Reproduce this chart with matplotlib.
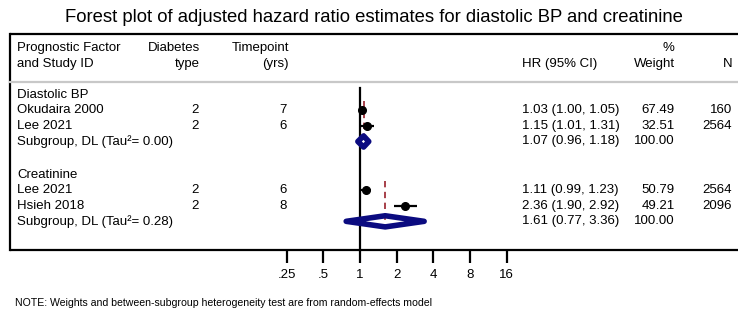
import matplotlib
matplotlib.use("Agg")
import matplotlib.pyplot as plt
from matplotlib.patches import Polygon
import numpy as np

plt.rcParams['font.family'] = ['Liberation Sans', 'DejaVu Sans']

# ---------------- data ----------------
groups = ["Diastolic BP", "Creatinine"]
studies = [["Okudaira 2000", "Lee 2021"], ["Lee 2021", "Hsieh 2018"]]
diab_type = [["2", "2"], ["2", "2"]]
timepoint = [["7", "6"], ["6", "8"]]
hr = [[1.03, 1.15], [1.11, 2.36]]
lo = [[1.00, 1.01], [0.99, 1.90]]
hi = [[1.05, 1.31], [1.23, 2.92]]
weight = [["67.49", "32.51"], ["50.79", "49.21"]]
n_obs = [["160", "2564"], ["2564", "2096"]]
sub_hr = [1.07, 1.61]
sub_lo = [0.96, 0.77]
sub_hi = [1.18, 3.36]
tau2 = ["0.00", "0.28"]
xticks = [0.25, 0.5, 1, 2, 4, 8, 16]
xtick_labels = [".25", ".5", "1", "2", "4", "8", "16"]

title = "Forest plot of adjusted hazard ratio estimates for diastolic BP and creatinine"
note = "NOTE: Weights and between-subgroup heterogeneity test are from random-effects model"

# ---------------- layout ----------------
W, H = 738, 311
fig = plt.figure(figsize=(W / 100, H / 100), dpi=100)
ax = fig.add_axes([0, 0, 1, 1])
ax.set_xscale('log', base=2)
PX_PER_DBL = 36.7
X1 = 360.0
ax.set_xlim(2 ** ((0 - X1) / PX_PER_DBL), 2 ** ((W - X1) / PX_PER_DBL))
ROW0, ROWH = 95.0, 15.5
def r(ypix):
    return (ypix - ROW0) / ROWH
ax.set_ylim(r(H), r(0))
ax.axis('off')

ty = ax.get_yaxis_transform()  # x axes fraction, y data
def fx(px):
    return px / W

FS = 9.5
navy = '#0b0b80'
red = '#a0323c'

# frame lines
ax.plot([fx(10), 1], [r(34), r(34)], transform=ty, color='black', lw=1.6, solid_capstyle='butt')
ax.plot([fx(10), fx(10)], [r(34), r(250)], transform=ty, color='black', lw=1.6)
ax.plot([fx(10), 1], [r(250), r(250)], transform=ty, color='black', lw=1.6, solid_capstyle='butt')
ax.plot([fx(10), 1], [r(82), r(82)], transform=ty, color='#c8c8c8', lw=1.6)

# header
hdr1, hdr2 = r(48), r(64)
ax.text(fx(17), hdr1, "Prognostic Factor", transform=ty, fontsize=FS, va='center', ha='left')
ax.text(fx(17), hdr2, "and Study ID", transform=ty, fontsize=FS, va='center', ha='left')
ax.text(fx(200), hdr1, "Diabetes", transform=ty, fontsize=FS, va='center', ha='right')
ax.text(fx(200), hdr2, "type", transform=ty, fontsize=FS, va='center', ha='right')
ax.text(fx(289), hdr1, "Timepoint", transform=ty, fontsize=FS, va='center', ha='right')
ax.text(fx(289), hdr2, "(yrs)", transform=ty, fontsize=FS, va='center', ha='right')
ax.text(fx(522), hdr2, "HR (95% CI)", transform=ty, fontsize=FS, va='center', ha='left')
ax.text(fx(668), hdr1, "%", transform=ty, fontsize=FS, va='center', ha='center')
ax.text(fx(675), hdr2, "Weight", transform=ty, fontsize=FS, va='center', ha='right')
ax.text(fx(732), hdr2, "N", transform=ty, fontsize=FS, va='center', ha='right')

# null line
ax.plot([1, 1], [r(88), r(250)], color='black', lw=1.6, zorder=3)

group_start = [0.0, 5.15]
for g in range(len(groups)):
    r0 = group_start[g]
    ax.text(fx(17), r0, groups[g], transform=ty, fontsize=FS, va='center', ha='left')
    nst = len(studies[g])
    sub_row = r0 + nst + 1
    # pooled dashed line
    ax.plot([sub_hr[g], sub_hr[g]], [r0 + 1 - 0.6, sub_row + 0.25], color=red, lw=1.3,
            ls=(0, (3.5, 2.5)), zorder=3)
    for i in range(nst):
        row = r0 + 1 + i
        ax.text(fx(17), row, studies[g][i], transform=ty, fontsize=FS, va='center', ha='left')
        ax.text(fx(199), row, diab_type[g][i], transform=ty, fontsize=FS, va='center', ha='right')
        ax.text(fx(287), row, timepoint[g][i], transform=ty, fontsize=FS, va='center', ha='right')
        ax.text(fx(522), row, f"{hr[g][i]:.2f} ({lo[g][i]:.2f}, {hi[g][i]:.2f})", transform=ty,
                fontsize=FS, va='center', ha='left')
        ax.text(fx(675), row, weight[g][i], transform=ty, fontsize=FS, va='center', ha='right')
        ax.text(fx(732), row, n_obs[g][i], transform=ty, fontsize=FS, va='center', ha='right')
        ax.plot([lo[g][i], hi[g][i]], [row, row], color='black', lw=1.6, zorder=4,
                solid_capstyle='butt')
        ax.plot([hr[g][i]], [row], 'o', color='black', ms=5.5, zorder=5)
    # subgroup diamond
    dh = 0.36
    verts = [(sub_lo[g], sub_row), (sub_hr[g], sub_row - dh), (sub_hi[g], sub_row),
             (sub_hr[g], sub_row + dh)]
    ax.add_patch(Polygon(verts, closed=True, facecolor='white', edgecolor='none', zorder=2))
    ax.add_patch(Polygon(verts, closed=True, facecolor='none', edgecolor=navy, lw=4.0,
                         joinstyle='round', zorder=4))
    ax.text(fx(17), sub_row, f"Subgroup, DL (Tau\u00b2= {tau2[g]})", transform=ty, fontsize=FS,
            va='center', ha='left')
    ax.text(fx(522), sub_row, f"{sub_hr[g]:.2f} ({sub_lo[g]:.2f}, {sub_hi[g]:.2f})", transform=ty,
            fontsize=FS, va='center', ha='left')
    ax.text(fx(675), sub_row, "100.00", transform=ty, fontsize=FS, va='center', ha='right')

# x axis ticks
ax.vlines(xticks, r(250), r(263), color='black', lw=1.6)
for t, lab in zip(xticks, xtick_labels):
    ax.text(t, r(275), lab, fontsize=FS, ha='center', va='center')

fig.text(fx(374), 1 - 17 / H, title, fontsize=13.3, ha='center', va='center')
fig.text(fx(15), 1 - 303 / H, note, fontsize=7.6, ha='left', va='center')

fig.savefig("out.png", dpi=100)
